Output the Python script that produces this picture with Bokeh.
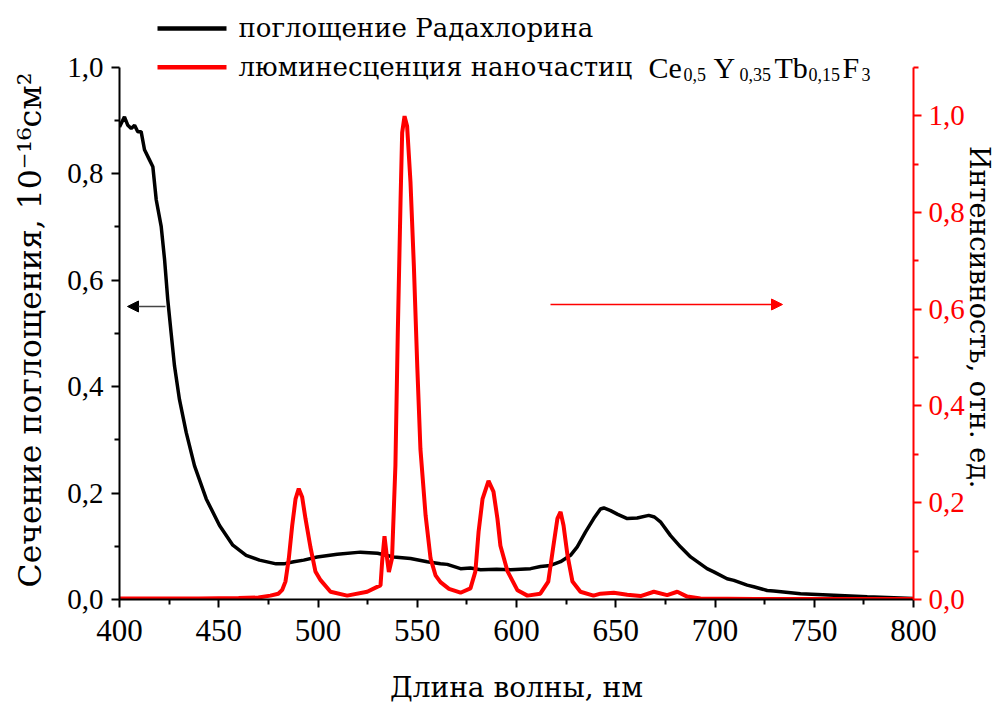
import math

from bokeh.embed import file_html
from bokeh.models import (Arrow, CustomJSTickFormatter, FixedTicker, Label,
                          LinearAxis, NormalHead, Range1d)
from bokeh.plotting import figure
from bokeh.resources import INLINE

# Absorption cross-section of Radachlorin, 10^-16 cm^2 (left axis)
abs_wl = [400, 402.5, 404.2, 405.9, 407.6, 409.2, 410.9, 412.6, 415.1, 416.8,
          418.5, 421, 422.7, 424.3, 426, 427.7, 430.2, 433.6, 437.8, 443.7,
          450.4, 457.1, 463.8, 470.5, 478.9, 482.8, 487.8, 492.8, 499.6, 509.7,
          521.4, 530, 538.2, 546.6, 555, 561.7, 565.1, 571.8, 576.8, 581.9,
          590, 597, 607.1, 612.1, 617.1, 622.2, 627.2, 630.6, 634.8, 638.9,
          642.3, 644, 647.4, 651, 655.8, 660.8, 666.6, 669.5, 672.5, 677.6,
          682.6, 687.7, 696, 699.4, 706.1, 709.5, 716.2, 719.5, 726.3, 729.6,
          743.1, 759.9, 776.7, 793.5, 800]
abs_val = [0.888, 0.907, 0.891, 0.885, 0.891, 0.879, 0.879, 0.845, 0.826, 0.813,
           0.751, 0.701, 0.639, 0.564, 0.501, 0.439, 0.376, 0.314, 0.251, 0.189,
           0.139, 0.102, 0.083, 0.074, 0.067, 0.067, 0.071, 0.074, 0.080, 0.085,
           0.089, 0.087, 0.080, 0.077, 0.071, 0.067, 0.066, 0.058, 0.059, 0.056,
           0.057, 0.056, 0.058, 0.062, 0.064, 0.071, 0.083, 0.099, 0.127, 0.152,
           0.170, 0.172, 0.167, 0.160, 0.152, 0.153, 0.158, 0.155, 0.146, 0.120,
           0.099, 0.080, 0.058, 0.052, 0.039, 0.036, 0.027, 0.024, 0.017, 0.016,
           0.011, 0.008, 0.005, 0.003, 0.002]

# Luminescence of Ce0.5Y0.35Tb0.15F3 nanoparticles, rel. units (right axis)
lum_wl = [400, 420, 440, 460, 470, 476, 480, 482, 483.6, 485.3,
          487, 488.7, 490.3, 492, 493.7, 496.2, 498.7, 501.3, 506.3, 514.7,
          524.8, 529.8, 531.5, 532.3, 533.5, 534.8, 535.7, 537.3, 539, 540.2,
          541.6, 542.4, 543.6, 544.9, 546.6, 548.3, 550, 551.6, 554.2, 556.7,
          559.2, 561.7, 566, 571.8, 576.8, 579.3, 580.9, 582.9, 585.9, 588.4,
          590.4, 591.9, 595.5, 600.5, 605.5, 612, 616, 618.6, 620.6, 622.2,
          623.7, 625.7, 628.2, 632.2, 638.8, 642.3, 649, 655.8, 662.5, 669.2,
          675.9, 681, 686, 692.7, 720, 760, 800]
lum_val = [0.002, 0.002, 0.002, 0.003, 0.004, 0.008, 0.012, 0.020, 0.037, 0.085,
           0.153, 0.208, 0.229, 0.212, 0.167, 0.108, 0.058, 0.040, 0.016, 0.008,
           0.016, 0.026, 0.029, 0.078, 0.131, 0.085, 0.057, 0.085, 0.277, 0.552,
           0.827, 0.965, 0.999, 0.978, 0.862, 0.689, 0.483, 0.311, 0.174, 0.085,
           0.050, 0.036, 0.022, 0.014, 0.023, 0.058, 0.140, 0.208, 0.245, 0.223,
           0.167, 0.111, 0.058, 0.019, 0.008, 0.012, 0.037, 0.111, 0.167, 0.181,
           0.153, 0.091, 0.037, 0.016, 0.008, 0.012, 0.014, 0.010, 0.007, 0.016,
           0.009, 0.016, 0.006, 0.002, 0.001, 0.001, 0.001]

x_ticks = [400, 450, 500, 550, 600, 650, 700, 750, 800]
x_minor = [425, 475, 525, 575, 625, 675, 725, 775]
left_ticks = [0.0, 0.2, 0.4, 0.6, 0.8, 1.0]
left_minor = [0.1, 0.3, 0.5, 0.7, 0.9]
right_ticks = [0.0, 0.2, 0.4, 0.6, 0.8, 1.0]
right_minor = [0.1, 0.3, 0.5, 0.7, 0.9, 1.1]

FONT = "Liberation Serif"   # digits and Latin
CYR = "DejaVu Serif"        # Cyrillic captions
RED = "#ff0000"
NBSP = "\u00a0"

W, H = 1000, 706
LEFT, RIGHT, BOTTOM = 119, 87, 105
AXIS_TOP = 67          # pixels between canvas top and the top of both y axes
X_LO, X_HI = 400, 800
L_LO, L_HI = 0.0, 1.0  # left axis extent
R_LO, R_HI = 0.0, 1.1  # right axis extent

frame_w = W - LEFT - RIGHT
frame_h = H - BOTTOM
axis_h = frame_h - AXIS_TOP
# the frame reaches the canvas top so that the legend block is not clipped
l_top = L_LO + (L_HI - L_LO) * frame_h / axis_h
r_top = R_LO + (R_HI - R_LO) * frame_h / axis_h

p = figure(width=W, height=H, output_backend="svg", toolbar_location=None,
           x_range=Range1d(X_LO, X_HI), y_range=Range1d(L_LO, l_top),
           min_border_left=LEFT, min_border_right=RIGHT,
           min_border_top=0, min_border_bottom=BOTTOM,
           x_axis_location=None, y_axis_location=None)
p.outline_line_color = None
p.grid.visible = False
p.background_fill_color = "white"
p.border_fill_color = "white"
p.extra_y_ranges = {"lum": Range1d(R_LO, r_top)}


def px_x(px):
    """Canvas x pixel -> wavelength."""
    return X_LO + (px - LEFT) * (X_HI - X_LO) / frame_w


def px_y(py):
    """Canvas y pixel -> left-axis value."""
    return L_LO + (frame_h - py) * (L_HI - L_LO) / axis_h


comma1 = CustomJSTickFormatter(code="return tick.toFixed(1).replace('.', ',');")
plain = CustomJSTickFormatter(code="return tick.toFixed(0);")


def style_axis(ax, color, size):
    ax.axis_line_color = color
    ax.axis_line_width = 2
    ax.major_tick_line_color = color
    ax.minor_tick_line_color = color
    ax.major_tick_line_width = 2
    ax.minor_tick_line_width = 2
    ax.major_tick_in = 0
    ax.major_tick_out = 8
    ax.minor_tick_in = 0
    ax.minor_tick_out = 5
    ax.major_label_text_color = color
    ax.major_label_text_font = FONT
    ax.major_label_text_font_size = size
    ax.axis_label_text_font = CYR
    ax.axis_label_text_font_style = "normal"
    ax.axis_label_text_color = "black"


xaxis = LinearAxis(ticker=FixedTicker(ticks=x_ticks, minor_ticks=x_minor),
                   formatter=plain, bounds=(X_LO, X_HI))
style_axis(xaxis, "black", "31px")
xaxis.major_label_standoff = 12
xaxis.axis_label = "Длина волны, нм"
xaxis.axis_label_text_font_size = "28px"
xaxis.axis_label_standoff = 27
p.add_layout(xaxis, "below")

yaxis = LinearAxis(ticker=FixedTicker(ticks=left_ticks, minor_ticks=left_minor),
                   formatter=comma1, bounds=(L_LO, L_HI))
style_axis(yaxis, "black", "29px")
yaxis.major_label_standoff = 8
yaxis.axis_label = "Сечение поглощения, 10⁻¹⁶см²" + NBSP * 6
yaxis.axis_label_text_font_size = "31.5px"
yaxis.axis_label_standoff = 16
p.add_layout(yaxis, "left")

raxis = LinearAxis(y_range_name="lum",
                   ticker=FixedTicker(ticks=right_ticks, minor_ticks=right_minor),
                   formatter=comma1, bounds=(R_LO, R_HI))
style_axis(raxis, RED, "29px")
raxis.major_label_standoff = 7
raxis.axis_label = NBSP * 4 + "Интенсивность, отн. ед."
raxis.axis_label_text_font_size = "27px"
raxis.axis_label_standoff = -4
p.add_layout(raxis, "right")

# curves
abs_line = p.line(abs_wl, abs_val, line_color="black", line_width=3.5)
lum_line = p.line(lum_wl, lum_val, line_color=RED, line_width=4,
                  y_range_name="lum")

# arrows pointing to the corresponding axes
p.add_layout(Arrow(x_start=px_x(165), y_start=px_y(307),
                   x_end=px_x(127), y_end=px_y(307),
                   line_color="#444444", line_width=1.5,
                   end=NormalHead(size=11, fill_color="black",
                                  line_color="black", line_width=1)))
p.add_layout(Arrow(x_start=px_x(550), y_start=px_y(305),
                   x_end=px_x(782), y_end=px_y(305),
                   line_color=RED, line_width=1.5,
                   end=NormalHead(size=11, fill_color=RED,
                                  line_color=RED, line_width=1)))

DESCENT = {FONT: 0.216, CYR: 0.236}   # descent of each face, in em


def text(xp, base_py, s, size_px, font=FONT, color="black"):
    """Text whose baseline sits at canvas pixel row base_py."""
    bottom = base_py + DESCENT[font] * size_px
    p.add_layout(Label(x=px_x(xp), y=px_y(bottom), text=s, text_font=font,
                       text_font_size=f"{size_px}px", text_color=color,
                       text_align="left", text_baseline="bottom"))


# legend block
p.add_layout(Arrow(x_start=px_x(157), y_start=px_y(28),
                   x_end=px_x(226), y_end=px_y(28),
                   line_color="black", line_width=4.5, end=None))
p.add_layout(Arrow(x_start=px_x(157), y_start=px_y(67),
                   x_end=px_x(226), y_end=px_y(67),
                   line_color=RED, line_width=4.5, end=None))

LEG = 30
LEG_CYR = 26
SUB = 18
text(238, 37, "поглощение Радахлорина", LEG_CYR, font=CYR)
text(238, 76, "люминесценция наночастиц", LEG_CYR, font=CYR)
parts = [(648, "Ce", LEG), (683, "0,5", SUB), (713, "Y", LEG),
         (739, "0,35", SUB), (774, "Tb", LEG), (808, "0,15", SUB),
         (842, "F", LEG), (861, "3", SUB)]
for xp, s, sz in parts:
    text(xp, 77, s, sz)

open("out.html", "w").write(file_html(p, INLINE))
